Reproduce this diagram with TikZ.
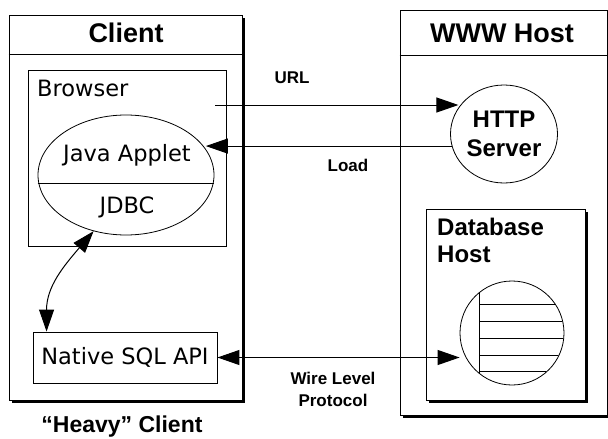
\documentclass[tikz,border=0pt]{standalone}
\usepackage{fontspec}
\setmainfont{DejaVu Sans}
\newfontfamily\headfont{Liberation Sans}
\usetikzlibrary{arrows.meta,shapes.geometric,shadows}

\tikzset{
  every node/.style={inner sep=0pt},
  frame/.style={draw, line width=1pt, fill=white,
                drop shadow={shadow xshift=3pt, shadow yshift=-3pt, fill=black, opacity=1}},
  plainbox/.style={draw, line width=0.9pt, fill=white},
  hdr/.style={font=\headfont\bfseries\fontsize{27}{30}\selectfont},
  heavytxt/.style={font=\headfont\bfseries\fontsize{23}{27}\selectfont},
  txt/.style={font=\fontsize{22.5}{26}\selectfont},
  srvtxt/.style={font=\headfont\bfseries\fontsize{24}{29}\selectfont, align=center},
  lbl/.style={font=\headfont\bfseries\fontsize{17}{22}\selectfont, align=center},
  oval/.style={draw, ellipse, line width=0.8pt},
  arr/.style={-{Triangle[length=22pt,width=15pt]}, line width=1pt},
  darr/.style={{Triangle[length=22pt,width=15pt]}-{Triangle[length=22pt,width=15pt]}, line width=1pt},
}

\begin{document}
\begin{tikzpicture}[x=1pt, y=-1pt]
\useasboundingbox (0,0) rectangle (608,439);
\clip (0,0) rectangle (608,439);

% client side
\node[frame, minimum width=233pt, minimum height=385pt] (client) at (125.5,207.5) {};
\node[hdr] (clienttitle) at (126,33) {Client};
\draw[line width=0.9pt] ([yshift=-40pt]client.north west) -- ([yshift=-40pt]client.north east);

\node[plainbox, minimum width=198pt, minimum height=176pt] (browser) at (127,158) {};
\node[txt, anchor=west] (browserlbl) at (37,88) {Browser};
\node[oval, minimum width=176pt, minimum height=120pt] (applet) at (126,175) {};
\draw[line width=0.8pt] ([yshift=-8pt]applet.west) -- ([yshift=-8pt]applet.east);
\node[txt] (appletlbl) at (127,155) {Java Applet};
\node[txt] (jdbclbl) at (127,207) {JDBC};

\node[plainbox, txt, minimum width=184pt, minimum height=51pt] (native) at (125,357.5) {Native SQL API};
\node[heavytxt] (heavy) at (122,427) {“Heavy” Client};

% host side
\node[frame, minimum width=207pt, minimum height=405pt] (www) at (503.5,212.5) {};
\node[hdr] (wwwtitle) at (502,33) {WWW Host};
\draw[line width=0.9pt] ([yshift=-46pt]www.north west) -- ([yshift=-46pt]www.north east);
\node[oval, srvtxt, minimum width=107pt, minimum height=98pt] (http) at (504,134) {HTTP\\Server};

\node[frame, minimum width=159pt, minimum height=191pt] (dbhost) at (505.5,304.5) {};
\node[srvtxt, anchor=north west, align=left, font=\headfont\bfseries\fontsize{24}{27}\selectfont] (dbhostlbl) at (437,218) {Database\\Host};
\node[draw, circle, minimum size=104pt, line width=0.8pt] (db) at (512,333) {};
\begin{scope}
  \clip (db.center) circle (51.6);
  \draw[line width=0.8pt] (479,270) -- (479,400);
  \foreach \y in {304,321,338,355,371}
    \draw[line width=0.8pt] (479,\y) -- (570,\y);
\end{scope}

% connectors
\coordinate (urlstart) at (215,105);
\draw[arr] (urlstart) -- (urlstart -| http.150);
\node[lbl] (urllbl) at (292,78) {URL};
\draw[arr] (http.193) -- (http.193 -| applet.18);
\node[lbl] (loadlbl) at (348,165) {Load};
\draw[darr] (native.east) -- (native.east -| db.west);
\node[lbl] (wirelbl) at (333,389) {Wire Level\\Protocol};
\coordinate (natjoin) at ([xshift=14pt]native.north west);
\draw[darr] (applet.240) .. controls +(-30,35) and +(0,-45) .. (natjoin);

\end{tikzpicture}
\end{document}
